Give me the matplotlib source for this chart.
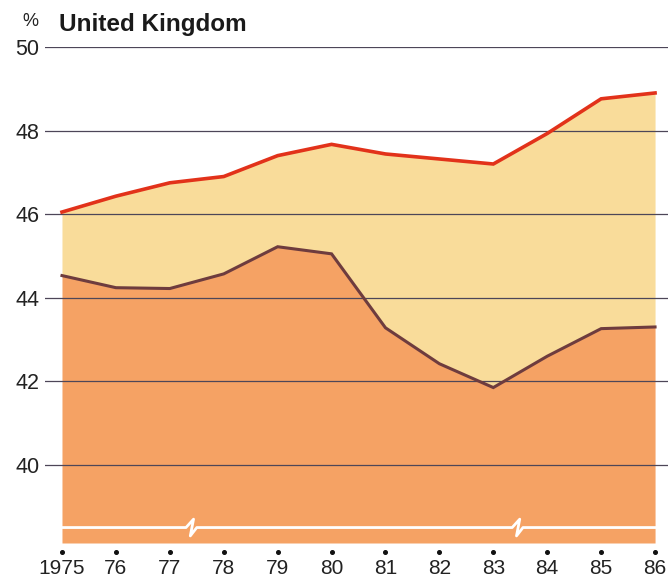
import numpy as np
import matplotlib
matplotlib.use('Agg')
import matplotlib.pyplot as plt
import matplotlib.transforms as mtransforms

# data
years = [1975, 1976, 1977, 1978, 1979, 1980, 1981, 1982, 1983, 1984, 1985, 1986]
year_labels = ['1975', '76', '77', '78', '79', '80', '81', '82', '83', '84', '85', '86']
upper = [46.05, 46.43, 46.75, 46.9, 47.4, 47.67, 47.44, 47.32, 47.2, 47.93, 48.76, 48.9]
lower = [44.53, 44.24, 44.22, 44.57, 45.22, 45.05, 43.28, 42.42, 41.85, 42.6, 43.26, 43.3]
y_ticks = [40, 42, 44, 46, 48, 50]
breaks_at = [1977.4, 1983.45]

base = 38.13
plt.rcParams['font.family'] = ['Liberation Sans', 'DejaVu Sans']

fig = plt.figure(figsize=(6.68, 5.79), dpi=100)
ax = fig.add_axes([45/668, 36/579, 623/668, 496/579])
ax.set_xlim(1974.685, 1986.24)
ax.set_ylim(base, 50)

# filled areas
ax.fill_between(years, base, lower, color='#F5A264', lw=0, zorder=1)
ax.fill_between(years, lower, upper, color='#F9DC9A', lw=0, zorder=1)
ax.plot(years, upper, color='#E2321A', lw=2.6, zorder=4, solid_joinstyle='miter')
ax.plot(years, lower, color='#6E3C3E', lw=2.2, zorder=4, solid_joinstyle='miter')

# grid lines across the whole width
for t in y_ticks:
    ax.axhline(t, color='#4d4658', lw=0.9, zorder=3)

# white axis-break line with two zigzags
bx = [years[0]]
by = [38.5]
for b in breaks_at:
    bx += [b - 0.1, b + 0.04, b - 0.02, b + 0.1]
    by += [38.5, 38.7, 38.3, 38.5]
bx.append(years[-1])
by.append(38.5)
ax.plot(bx, by, color='white', lw=2, zorder=5)

# axes cosmetics
for s in ax.spines.values():
    s.set_visible(False)
ax.set_yticks(y_ticks)
ax.set_yticklabels([str(t) for t in y_ticks], fontsize=15.5, color='#222222')
ax.tick_params(axis='y', length=0, pad=4)
ax.set_xticks([])

trans = mtransforms.blended_transform_factory(ax.transData, ax.transAxes)
ax.plot(years, [-0.018] * len(years), 'o', color='#111111', ms=2.6,
        transform=trans, clip_on=False)
for x, lab in zip(years, year_labels):
    ax.text(x, -0.052, lab, transform=trans, ha='center', va='center',
            fontsize=15, color='#222222')

fig.text(30/668, 1 - 22/579, '%', ha='center', va='center', fontsize=13, color='#222222')
fig.text(59/668, 1 - 25/579, 'United Kingdom', ha='left', va='center',
         fontsize=17.5, fontweight='bold', color='#1a1a1a')

fig.savefig('out.png', dpi=100)
